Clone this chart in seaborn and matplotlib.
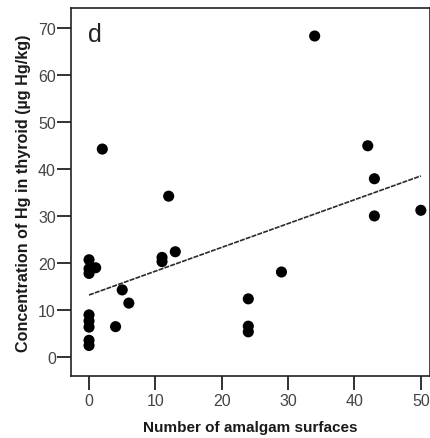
import matplotlib
matplotlib.use("Agg")
import matplotlib.pyplot as plt
import seaborn as sns
import pandas as pd

# Data
amalgam_surfaces = [0, 0, 0, 0, 0, 0, 0, 0, 1, 2, 4, 5, 6, 11, 11, 12, 13,
                    24, 24, 24, 29, 34, 42, 43, 43, 50]
hg_thyroid = [20.7, 18.8, 17.8, 9.0, 7.7, 6.4, 3.6, 2.5, 19.0, 44.2, 6.5, 14.3,
              11.5, 21.2, 20.3, 34.2, 22.4, 12.4, 6.6, 5.4, 18.1, 68.2, 44.9,
              37.9, 30.0, 31.2]
x_ticks = [0, 10, 20, 30, 40, 50]
y_ticks = [0, 10, 20, 30, 40, 50, 60, 70]
panel_label = "d"
x_label = "Number of amalgam surfaces"
y_label = "Concentration of Hg in thyroid (\u00b5g Hg/kg)"

df = pd.DataFrame({"x": amalgam_surfaces, "y": hg_thyroid})

sns.set_style("ticks")
plt.rcParams["font.family"] = ["Liberation Sans", "DejaVu Sans"]

fig = plt.figure(figsize=(4.31, 4.39), dpi=100)
ax = fig.add_axes([0.165, 0.141, 0.833, 0.838])

sns.regplot(data=df, x="x", y="y", ax=ax, ci=None,
            scatter_kws=dict(s=64, color="black", edgecolor="none", alpha=1, zorder=3),
            line_kws=dict(color="#2a2a2a", linewidth=1.2, linestyle=(0, (3, 0.7))))

ax.set_xlim(-2.7, 51.4)
ax.set_ylim(-4, 74.1)
ax.set_xticks(x_ticks)
ax.set_yticks(y_ticks)
ax.tick_params(axis="both", length=10, width=1.3, color="#222222",
               labelsize=11.5, labelcolor="#444444", direction="out")
ax.tick_params(axis="y", pad=1)
ax.tick_params(axis="x", length=10, pad=2)
for s in ax.spines.values():
    s.set_visible(True)
    s.set_color("#222222")
    s.set_linewidth(1.2)

ax.set_xlabel(x_label, fontsize=11, fontweight="bold", labelpad=9,
              color="#1a1a1a")
ax.set_ylabel(y_label, fontsize=11.6, fontweight="bold", labelpad=5,
              color="#1a1a1a")
ax.text(0.047, 0.962, panel_label, transform=ax.transAxes, fontsize=18,
        va="top", ha="left", color="#222222")

fig.savefig("out.png", dpi=100)
